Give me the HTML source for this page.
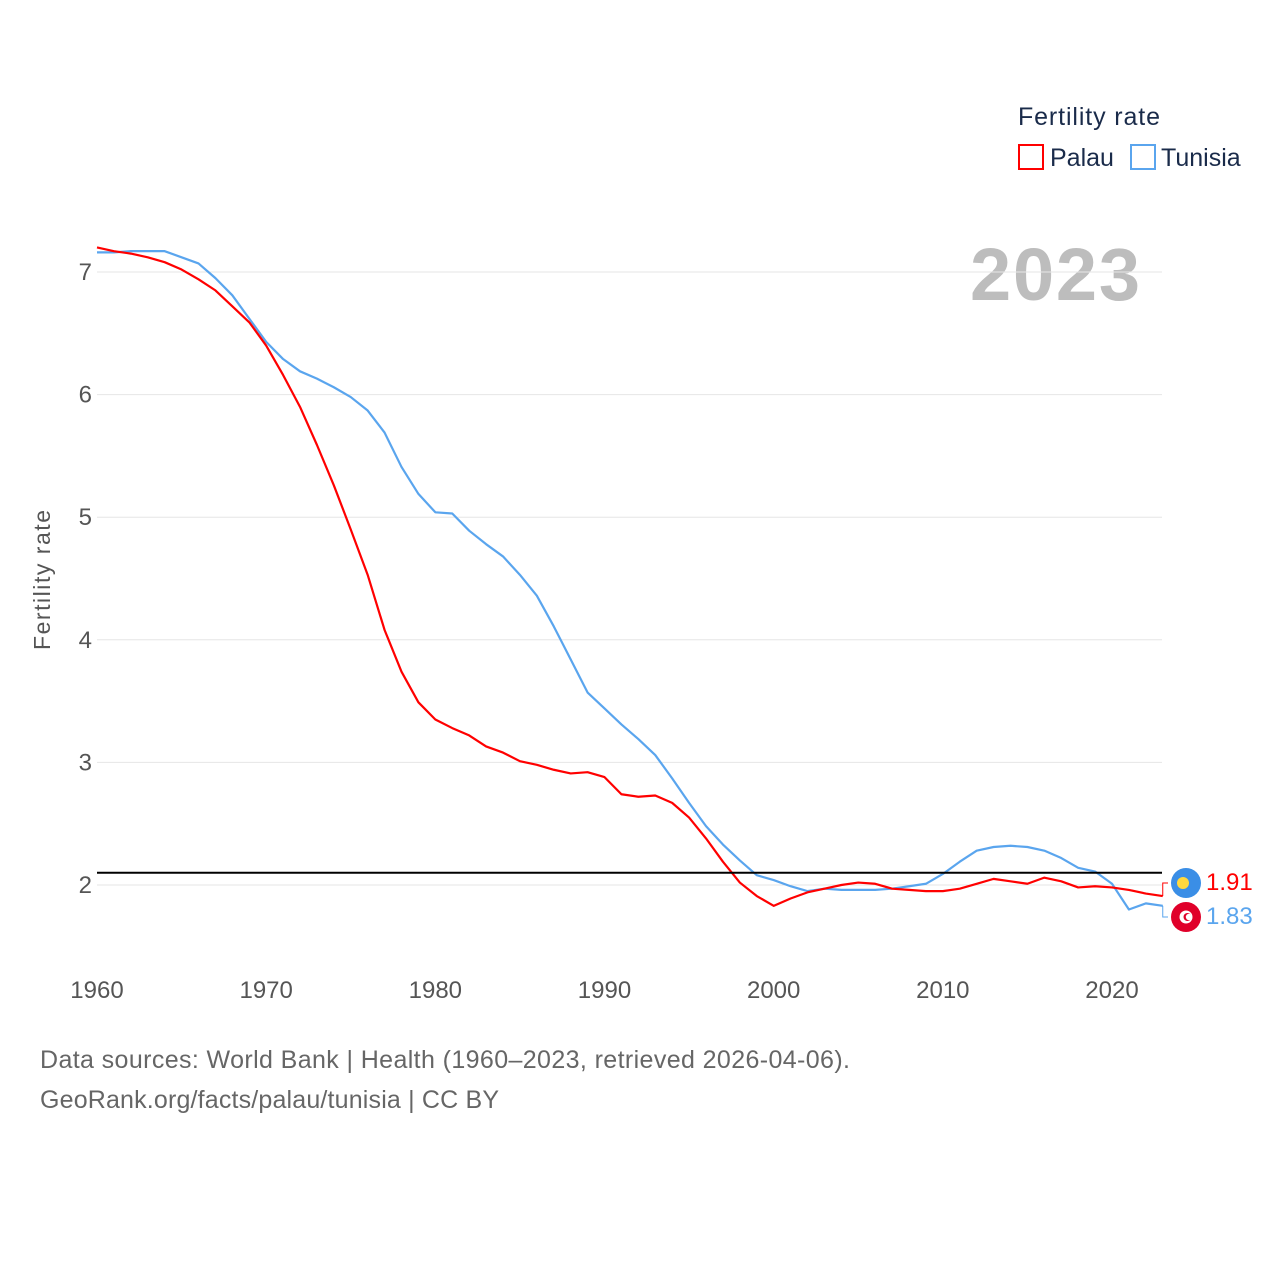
<!DOCTYPE html>
<html><head><meta charset="utf-8"><style>
body{margin:0;background:#fff;}
svg{display:block;font-family:"Liberation Sans",sans-serif;}
</style></head><body>
<svg id="chart" width="1280" height="1280">
<text x="1018" y="125" font-size="25" fill="#1a2b4a" textLength="142">Fertility rate</text>
<g>
<rect x="1019" y="145" width="24" height="24" fill="none" stroke="#f00" stroke-width="2"/>
<text x="1050" y="166" font-size="25" fill="#1a2b4a">Palau</text></g>
<g>
<rect x="1131" y="145" width="24" height="24" fill="none" stroke="#5aa5ee" stroke-width="2"/>
<text x="1161" y="166" font-size="25" fill="#1a2b4a">Tunisia</text></g>
<text x="1140" y="300" font-size="74" font-weight="bold" fill="#bdbdbd" text-anchor="end" textLength="170">2023</text>
<text transform="translate(50,580) rotate(-90)" font-size="23" fill="#555" text-anchor="middle" textLength="140">Fertility rate</text>
<g id="grid"></g><g id="marks"></g>
<text x="40" y="1068" font-size="25" fill="#666" textLength="810">Data sources: World Bank | Health (1960–2023, retrieved 2026-04-06).</text>
<text x="40" y="1108" font-size="25" fill="#666" textLength="459">GeoRank.org/facts/palau/tunisia | CC BY</text>
</svg>
<script>
const years=[];for(let y=1960;y<=2023;y++)years.push(y);
const palau=[7.20,7.17,7.15,7.12,7.08,7.02,6.94,6.85,6.72,6.59,6.40,6.16,5.90,5.59,5.26,4.90,4.53,4.08,3.74,3.49,3.35,3.28,3.22,3.13,3.08,3.01,2.98,2.94,2.91,2.92,2.88,2.74,2.72,2.73,2.67,2.55,2.38,2.19,2.02,1.91,1.83,1.89,1.94,1.97,2.00,2.02,2.01,1.97,1.96,1.95,1.95,1.97,2.01,2.05,2.03,2.01,2.06,2.03,1.98,1.99,1.98,1.96,1.93,1.91];
const tunisia=[7.16,7.16,7.17,7.17,7.17,7.12,7.07,6.95,6.81,6.62,6.43,6.29,6.19,6.13,6.06,5.98,5.87,5.69,5.41,5.19,5.04,5.03,4.89,4.78,4.68,4.53,4.36,4.11,3.84,3.57,3.44,3.31,3.19,3.06,2.87,2.67,2.48,2.33,2.20,2.08,2.04,1.99,1.95,1.97,1.96,1.96,1.96,1.97,1.99,2.01,2.09,2.19,2.28,2.31,2.32,2.31,2.28,2.22,2.14,2.11,2.01,1.80,1.85,1.83];
const yTicks=[2,3,4,5,6,7];
const xTicks=[1960,1970,1980,1990,2000,2010,2020];
const refValue=2.1;
const NS="http://www.w3.org/2000/svg";
const X=y=>97+(y-1960)*(1112-97)/60;
const Y=v=>885-(v-2)*122.6;
const g=document.getElementById('grid'),m=document.getElementById('marks');
function mk(p,tag,a,t){const e=document.createElementNS(NS,tag);for(const k in a)e.setAttribute(k,a[k]);if(t!=null)e.textContent=t;p.appendChild(e);return e;}
yTicks.forEach(v=>{
 const l=mk(g,'line',{x1:97,x2:1162,y1:Y(v),y2:Y(v),stroke:'#e6e6e6','stroke-width':1});
 
 
 const t=mk(g,'text',{x:92,y:Y(v)+8,'font-size':24,fill:'#555','text-anchor':'end'},v);
 
 
});
xTicks.forEach(v=>{
 const t=mk(g,'text',{x:X(v),y:998,'font-size':24,fill:'#555','text-anchor':'middle'},v);
 
 
});
function line(d,c,n){
 const p=mk(m,'polyline',{points:d.map((v,i)=>X(years[i])+','+Y(v)).join(' '),fill:'none',stroke:c,'stroke-width':2.2,'stroke-linejoin':'round'});
 
 
}
line(tunisia,'#5aa5ee','tunisia-line');
line(palau,'#f00','palau-line');
const ref=mk(m,'line',{x1:97,x2:1162,y1:Y(refValue),y2:Y(refValue),stroke:'#000','stroke-width':2});


const xe=X(2023);
const pl=palau[palau.length-1],tl=tunisia[tunisia.length-1];
mk(m,'polyline',{points:`${xe},${Y(pl)} ${xe},883 1168,883`,fill:'none',stroke:'#f00','stroke-width':1});
mk(m,'polyline',{points:`${xe},${Y(tl)} ${xe},917 1168,917`,fill:'none',stroke:'#5aa5ee','stroke-width':1});
const f1=mk(m,'g',{});


mk(f1,'circle',{cx:1186,cy:883,r:15,fill:'#3a8ee6'});
mk(f1,'circle',{cx:1183,cy:883,r:6,fill:'#ffd83d'});
const f2=mk(m,'g',{});


mk(f2,'circle',{cx:1186,cy:917,r:15,fill:'#e0002a'});
mk(f2,'circle',{cx:1186,cy:917,r:6.5,fill:'#fff'});
mk(f2,'circle',{cx:1187.5,cy:917,r:4,fill:'#e0002a'});
mk(f2,'circle',{cx:1189,cy:917,r:3.2,fill:'#fff'});
const v1=mk(m,'text',{x:1206,y:890,'font-size':24,fill:'#f00'},pl.toFixed(2));


const v2=mk(m,'text',{x:1206,y:924,'font-size':24,fill:'#5aa5ee'},tl.toFixed(2));


</script>
</body></html>
